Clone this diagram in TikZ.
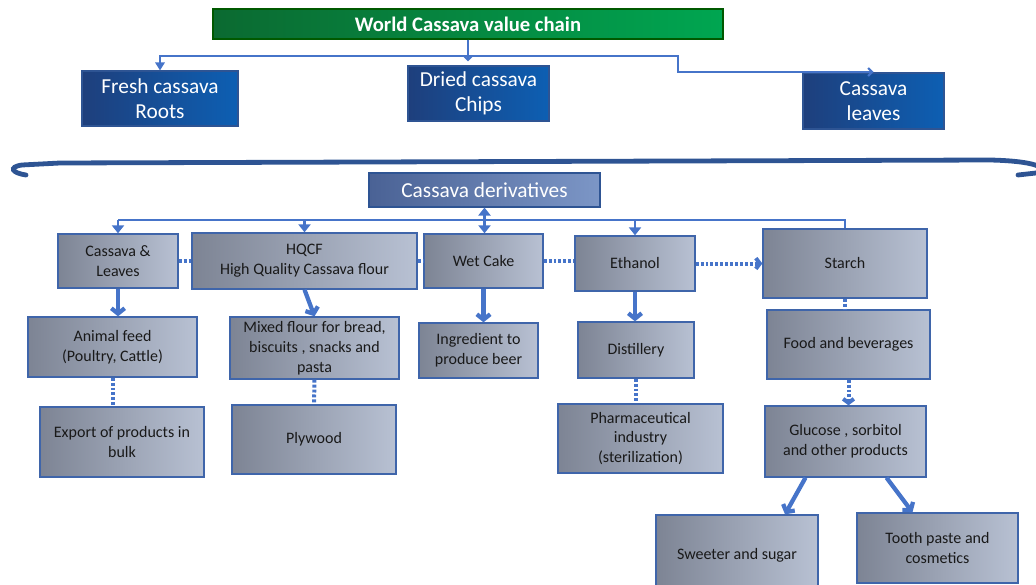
\documentclass[tikz,border=0pt]{standalone}
\usepackage{fontspec}
\setmainfont{Carlito}
\usepackage{xcolor}
\usetikzlibrary{arrows.meta,calc}

\definecolor{titleL}{HTML}{0B6A31}
\definecolor{titleR}{HTML}{00A651}
\definecolor{valueL}{HTML}{1E3F7C}
\definecolor{valueR}{HTML}{0D5FB3}
\definecolor{derivL}{HTML}{4A6295}
\definecolor{derivR}{HTML}{7C96C6}
\definecolor{prodL}{HTML}{7D8494}
\definecolor{prodR}{HTML}{B8C1D3}
\definecolor{prodB}{HTML}{3F65AA}
\definecolor{linkblue}{HTML}{4674C9}
\definecolor{bracecol}{HTML}{2E5493}

\begin{document}
\begin{tikzpicture}[x=0.75pt, y=-0.75pt,
  bxsize/.style 2 args={minimum width=#1*0.75pt, minimum height=#2*0.75pt},
  titlebox/.style={draw=green!35!black, line width=0.8pt, left color=titleL, right color=titleR, text=white, font=\fontsize{15.5}{18}\selectfont\bfseries},
  valuebox/.style={draw=bracecol, line width=0.8pt, left color=valueL, right color=valueR, text=white, align=center, font=\fontsize{16}{19}\selectfont},
  derivbox/.style={draw=bracecol, line width=0.8pt, left color=derivL, right color=derivR, text=white, font=\fontsize{16}{19}\selectfont},
  prodbox/.style={draw=prodB, line width=1pt, left color=prodL, right color=prodR, text=black!90, align=center, font=\fontsize{12}{14.8}\selectfont},
  feedline/.style={draw=linkblue, line width=1.5pt},
  bus/.style={draw=linkblue, line width=2.2pt},
  flow/.style={draw=linkblue, line width=3.2pt, -{Straight Barb[length=4pt,width=10pt]}},
  dotlink/.style={draw=linkblue, line width=3pt, dash pattern=on 2.2pt off 1.5pt},
  brace/.style={draw=bracecol, line width=3.6pt, line cap=round}
]
\useasboundingbox (0,0) rectangle (1036,585);

% value chain
\node[titlebox, bxsize={510}{30}] (title) at (468,24) {World Cassava value chain};
\node[valuebox, bxsize={156}{55}] (fresh) at (160,98.5) {Fresh cassava\\Roots};
\node[valuebox, bxsize={141}{55}] (dried) at (478.5,93.5) {Dried cassava\\Chips};
\node[valuebox, bxsize={141}{56}] (leaves) at (873.5,101) {Cassava\\leaves};

\coordinate (tj) at (470,56);
\coordinate (lbend) at (678,72);
\draw[feedline, -{Triangle[length=6pt,width=7pt]}] (title.south) -- (title.south |- tj) -| (fresh.north);
\draw[feedline, -{Straight Barb[length=3pt,width=6pt]}] (title.south) -- ($(title.south |- dried.north)+(0,-4)$);
\draw[feedline, -{Straight Barb[length=3pt,width=6pt]}] (title.south |- tj) -| (lbend) -- (leaves.north |- lbend);

% brace
\draw[brace] (26,175) .. controls (12,173) and (8,167) .. (22,165) -- (60,163) -- (990,160)
  .. controls (1035,161) and (1050,168) .. (1036,173) -- (1018,175);

% derivatives
\node[derivbox, bxsize={231}{34}] (deriv) at (484.5,190) {Cassava derivatives};

\node[prodbox, bxsize={120}{54}] (cl) at (118,261) {Cassava \&\\Leaves};
\node[prodbox, bxsize={225}{56}] (hqcf) at (304.5,261) {HQCF\\High Quality Cassava flour};
\node[prodbox, bxsize={119}{54}] (wetcake) at (483.5,261) {Wet Cake};
\node[prodbox, bxsize={120}{55}] (ethanol) at (635,263.5) {Ethanol};
\node[prodbox, bxsize={164}{69}] (starch) at (845,263.5) {Starch};

\node[prodbox, bxsize={169}{60}] (feed) at (112.5,347) {Animal feed\\(Poultry, Cattle)};
\node[prodbox, bxsize={169}{60}] (mixed) at (314.5,348) {Mixed flour for bread,\\biscuits , snacks and\\pasta};
\node[prodbox, bxsize={119}{55}] (beer) at (478.5,350.5) {Ingredient to\\produce beer};
\node[prodbox, bxsize={116}{56}] (distil) at (636,350) {Distillery};
\node[prodbox, bxsize={163}{69}] (food) at (848.5,344.5) {Food and beverages};

\node[prodbox, bxsize={164}{70}] (export) at (122,442) {Export of products in\\bulk};
\node[prodbox, bxsize={164}{69}] (plywood) at (314,439.5) {Plywood};
\node[prodbox, bxsize={165}{69}] (pharma) at (640.5,438.5) {Pharmaceutical\\industry\\(sterilization)};
\node[prodbox, bxsize={161}{71}] (glucose) at (845.5,441.5) {Glucose , sorbitol\\and other products};

\node[prodbox, bxsize={162}{80}] (sweet) at (737,555) {Sweeter and sugar};
\node[prodbox, bxsize={161}{70}] (tooth) at (937.5,548) {Tooth paste and\\cosmetics};

% bus from derivatives
\coordinate (dj) at (485,220);
\draw[bus] (cl.north |- dj) -- (starch.north |- dj) -- (starch.north);
\draw[bus, -{Triangle[length=6pt,width=9pt]}] (cl.north |- dj) -- (cl.north);
\draw[bus, -{Triangle[length=6pt,width=9pt]}] (hqcf.north |- dj) -- (hqcf.north);
\draw[bus, -{Triangle[length=6pt,width=9pt]}] (ethanol.north |- dj) -- (ethanol.north);
\draw[bus, {Triangle[length=6pt,width=9pt]}-{Triangle[length=6pt,width=9pt]}] (deriv.south) -- (deriv.south |- wetcake.north);

% links between derivatives
\draw[dotlink] (cl.east) -- (hqcf.west |- cl.east);
\draw[dotlink] (hqcf.east) -- (wetcake.west |- hqcf.east);
\draw[dotlink] (wetcake.east) -- (ethanol.west |- wetcake.east);
\draw[dotlink, -{Straight Barb[length=3pt,width=8pt]}] (ethanol.east) -- (starch.west |- ethanol.east);

% products
\draw[flow] (cl.south) -- (cl.south |- feed.north);
\draw[flow] (hqcf.south) -- (mixed.north);
\draw[flow] (wetcake.south) -- (wetcake.south |- beer.north);
\draw[flow] (ethanol.south) -- (ethanol.south |- distil.north);
\draw[dotlink] (starch.south) -- (starch.south |- food.north);

\draw[dotlink] (feed.south) -- (feed.south |- export.north);
\draw[dotlink] (mixed.south) -- (plywood.north);
\draw[dotlink] (distil.south) -- (distil.south |- pharma.north);
\draw[dotlink, -{Straight Barb[length=3pt,width=8pt]}] (food.south) -- (food.south |- glucose.north);

\draw[flow] ($(glucose.south)+(-40,0)$) -- ($(sweet.north)+(48,0)$);
\draw[flow] ($(glucose.south)+(41,0)$) -- ($(tooth.north)+(-25,0)$);
\end{tikzpicture}
\end{document}
